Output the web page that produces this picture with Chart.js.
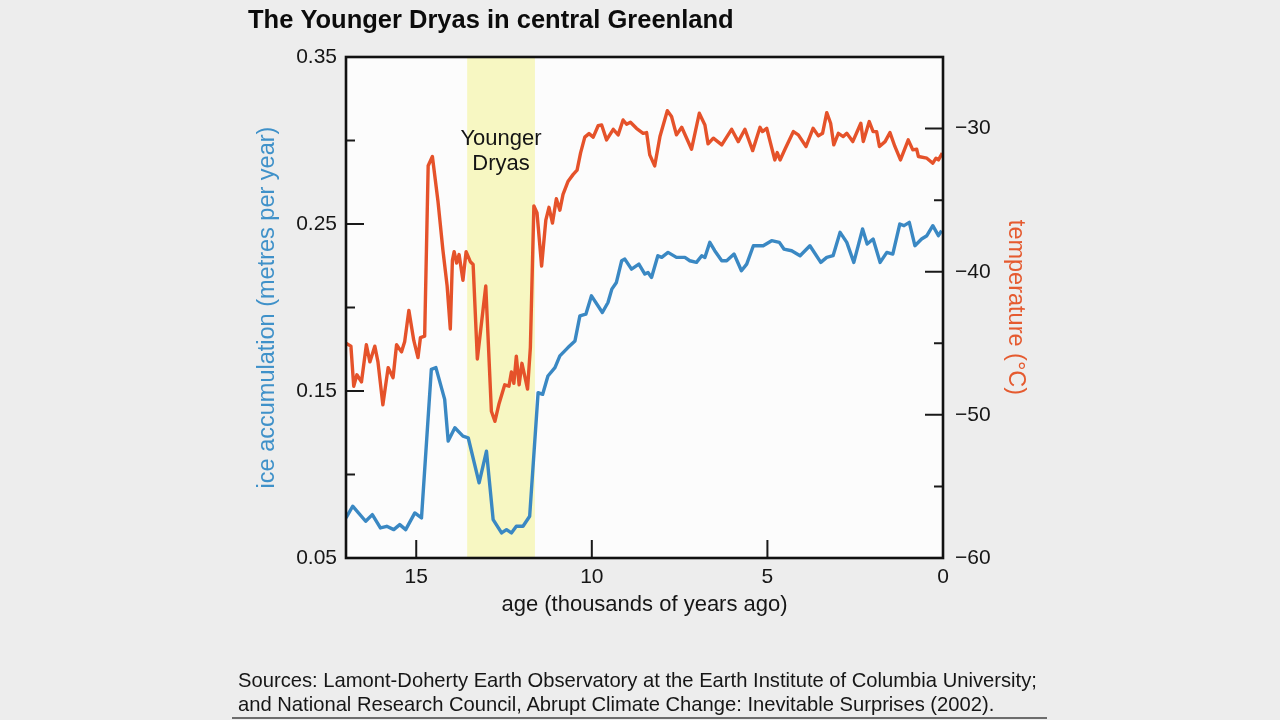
<!DOCTYPE html>
<html>
<head>
<meta charset="utf-8">
<script src="https://cdn.jsdelivr.net/npm/chart.js@4.4.1/dist/chart.umd.min.js"></script>
<style>
  html, body { margin: 0; padding: 0; background: #ededed; }
  #wrap { position: relative; width: 1280px; height: 720px; overflow: hidden; }
  #chart { position: absolute; left: 0; top: 0; }
  #source { position: absolute; left: 238px; top: 669px; font-family: 'Liberation Sans', Arial, sans-serif;
            font-size: 20.2px; line-height: 23.7px; color: #161616; white-space: nowrap; }
  #rule { position: absolute; left: 232px; top: 717px; width: 815px; height: 2px; background: #6d6d6d; }
</style>
</head>
<body>
<div id="wrap">
  <canvas id="chart" width="1280" height="720"></canvas>
  <div id="source">Sources: Lamont-Doherty Earth Observatory at the Earth Institute of Columbia University;<br>and National Research Council, Abrupt Climate Change: Inevitable Surprises (2002).</div>
  <div id="rule"></div>
</div>
<script>
// ---------- data ----------
const titleText = 'The Younger Dryas in central Greenland';
const accumTitle = 'ice accumulation (metres per year)';
const tempTitle = 'temperature (°C)';
const ageTitle = 'age (thousands of years ago)';
const bandLabel = ['Younger', 'Dryas'];
const youngerDryas = [13.55, 11.62];   // ages (thousands of years ago)

const ageTicks = [0, 5, 10, 15];
const accumTicks = [0.05, 0.10, 0.15, 0.20, 0.25, 0.30, 0.35];
const accumLabelled = [0.05, 0.15, 0.25, 0.35];
const tempTicks = [-60, -55, -50, -45, -40, -35, -30, -25];
const tempLabelled = [-60, -50, -40, -30];

const ageTemp = [17.0, 16.86, 16.78, 16.69, 16.56, 16.42, 16.32, 16.18, 16.09, 15.95, 15.80, 15.66, 15.56, 15.42, 15.33,
  15.21, 15.07, 14.95, 14.88, 14.76, 14.66, 14.54, 14.38, 14.24, 14.12, 14.03, 13.97, 13.92, 13.85, 13.78, 13.67, 13.58,
  13.46, 13.38, 13.26, 13.02, 12.86, 12.76, 12.64, 12.48, 12.36, 12.29, 12.22, 12.15, 12.07, 11.99, 11.91, 11.83, 11.75,
  11.65, 11.56, 11.43, 11.31, 11.22, 11.12, 11.01, 10.91, 10.82, 10.68, 10.53, 10.42, 10.32, 10.20, 10.08, 9.96, 9.82,
  9.72, 9.58, 9.39, 9.25, 9.11, 9.01, 8.90, 8.73, 8.54, 8.44, 8.35, 8.21, 8.06, 7.85, 7.73, 7.59, 7.44, 7.16, 6.94, 6.78,
  6.69, 6.54, 6.30, 6.02, 5.83, 5.64, 5.42, 5.21, 5.14, 5.02, 4.79, 4.72, 4.64, 4.50, 4.26, 4.12, 3.90, 3.70, 3.55, 3.43,
  3.31, 3.20, 3.11, 2.98, 2.84, 2.74, 2.57, 2.34, 2.27, 2.10, 1.99, 1.89, 1.81, 1.65, 1.51, 1.37, 1.21, 0.99, 0.86, 0.75,
  0.70, 0.46, 0.29, 0.20, 0.13, 0.02];
const tempC = [-45.0, -45.2, -48.0, -47.2, -47.7, -45.1, -46.3, -45.2, -46.3, -49.3, -46.7, -47.4, -45.1, -45.6, -44.9,
  -42.7, -44.8, -46.0, -44.6, -44.5, -32.6, -31.95, -35.1, -38.5, -41.0, -44.0, -39.2, -38.6, -39.4, -38.8, -40.6, -38.6,
  -39.3, -39.5, -46.1, -41.0, -49.75, -50.45, -49.2, -47.9, -48.0, -47.0, -47.8, -45.9, -47.9, -46.4, -47.3, -48.2, -45.3,
  -35.4, -35.9, -39.6, -36.4, -35.5, -36.6, -34.9, -35.7, -34.6, -33.7, -33.2, -32.9, -31.7, -30.6, -30.35, -30.6, -29.8,
  -29.75, -30.79, -30.05, -30.44, -29.40, -29.70, -29.56, -29.98, -30.33, -30.28, -31.84, -32.61, -30.56, -28.75, -29.16, -30.44, -29.91, -31.44, -28.93, -29.75,
  -31.07, -30.67, -31.14, -30.05, -30.91, -30.05, -31.54, -29.91, -30.21, -29.98, -32.19, -31.68, -32.19, -31.44, -30.21, -30.44, -31.25, -29.98, -30.51, -30.33,
  -28.89, -29.63, -31.14, -30.33, -30.56, -30.33, -30.91, -29.63, -30.91, -29.51, -30.21, -30.21, -31.25, -30.91, -30.28, -31.25, -32.19, -30.79, -31.49, -31.44,
  -31.95, -32.07, -32.42, -32.07, -32.19, -31.72];

const ageAccum = [17.0, 16.81, 16.44, 16.25, 16.02, 15.84, 15.64, 15.47, 15.30, 15.04, 14.85, 14.57, 14.44, 14.19, 14.09,
  13.90, 13.67, 13.52, 13.21, 13.00, 12.81, 12.57, 12.43, 12.29, 12.15, 11.96, 11.77, 11.53, 11.40, 11.25, 11.05, 10.91,
  10.68, 10.48, 10.34, 10.17, 10.01, 9.70, 9.54, 9.43, 9.30, 9.15, 9.06, 8.87, 8.66, 8.49, 8.40, 8.30, 8.12, 8.01, 7.83,
  7.59, 7.35, 7.21, 7.02, 6.87, 6.78, 6.64, 6.50, 6.30, 6.16, 5.95, 5.74, 5.59, 5.40, 5.12, 4.88, 4.66, 4.53, 4.31, 4.07,
  3.79, 3.48, 3.31, 3.13, 2.93, 2.74, 2.54, 2.29, 2.16, 1.99, 1.79, 1.60, 1.43, 1.23, 1.11, 0.96, 0.80, 0.61, 0.46, 0.29,
  0.13, 0.04];
const accum = [0.074, 0.081, 0.072, 0.076, 0.068, 0.069, 0.067, 0.070, 0.067, 0.077, 0.074, 0.163, 0.164, 0.145, 0.120,
  0.128, 0.123, 0.122, 0.095, 0.114, 0.073, 0.065, 0.067, 0.065, 0.069, 0.069, 0.075, 0.149, 0.148, 0.159, 0.164, 0.171,
  0.176, 0.180, 0.195, 0.196, 0.207, 0.197, 0.203, 0.211, 0.215, 0.228, 0.229, 0.223, 0.226, 0.220, 0.221, 0.218, 0.231, 0.230, 0.233,
  0.230, 0.230, 0.228, 0.227, 0.231, 0.230, 0.239, 0.234, 0.228, 0.228, 0.232, 0.222, 0.226, 0.237, 0.237, 0.240, 0.239, 0.235, 0.234, 0.231,
  0.237, 0.227, 0.230, 0.231, 0.245, 0.239, 0.227, 0.247, 0.238, 0.241, 0.227, 0.233, 0.232, 0.250, 0.249, 0.251, 0.237, 0.241, 0.243, 0.249,
  0.243, 0.246];

// ---------- styling ----------
const FONT = "'Liberation Sans', Arial, Helvetica, sans-serif";
const BLUE = '#3a88c3';
const RED = '#e5522a';
const AXIS_BLUE = '#3f91c9';
const AXIS_RED = '#e55a2f';
Chart.defaults.font.family = FONT;
Chart.defaults.color = '#161616';

const near = (a, b) => Math.abs(a - b) < 1e-6;
const toPoints = (xs, ys) => xs.map((x, i) => ({ x: x, y: ys[i] }));

const framePlugin = {
  id: 'frame',
  beforeDatasetsDraw(chart) {
    const { ctx, chartArea: a, scales } = chart;
    ctx.save();
    ctx.fillStyle = '#fcfcfc';
    ctx.fillRect(a.left, a.top, a.right - a.left, a.bottom - a.top);
    // Younger Dryas band
    const x0 = scales.x.getPixelForValue(youngerDryas[0]);
    const x1 = scales.x.getPixelForValue(youngerDryas[1]);
    ctx.fillStyle = '#f7f7c2';
    ctx.fillRect(Math.min(x0, x1), a.top, Math.abs(x1 - x0), a.bottom - a.top);
    ctx.fillStyle = '#141414';
    ctx.font = '22px ' + FONT;
    ctx.textAlign = 'center';
    ctx.textBaseline = 'alphabetic';
    const cx = (x0 + x1) / 2;
    ctx.fillText(bandLabel[0], cx, a.top + 88);
    ctx.fillText(bandLabel[1], cx, a.top + 113);
    ctx.restore();
  },
  afterDraw(chart) {
    const { ctx, chartArea: a, scales } = chart;
    ctx.save();
    ctx.strokeStyle = '#1a1a1a';
    ctx.lineWidth = 2;
    ctx.beginPath();
    scales.y.ticks.forEach(t => {
      const y = scales.y.getPixelForValue(t.value);
      const len = accumLabelled.some(v => near(v, t.value)) ? 18 : 9;
      ctx.moveTo(a.left, y); ctx.lineTo(a.left + len, y);
    });
    scales.y1.ticks.forEach(t => {
      const y = scales.y1.getPixelForValue(t.value);
      const len = tempLabelled.some(v => near(v, t.value)) ? 18 : 9;
      ctx.moveTo(a.right, y); ctx.lineTo(a.right - len, y);
    });
    scales.x.ticks.forEach(t => {
      const x = scales.x.getPixelForValue(t.value);
      ctx.moveTo(x, a.bottom); ctx.lineTo(x, a.bottom - 18);
    });
    ctx.stroke();
    ctx.lineWidth = 2.6;
    ctx.strokeStyle = '#111';
    ctx.strokeRect(a.left, a.top, a.right - a.left, a.bottom - a.top);
    ctx.restore();
  }
};

new Chart(document.getElementById('chart'), {
  type: 'line',
  data: {
    datasets: [
      {
        label: 'temperature',
        data: toPoints(ageTemp, tempC),
        yAxisID: 'y1',
        borderColor: RED,
        borderWidth: 3.4,
        pointRadius: 0,
        tension: 0,
        borderJoinStyle: 'round'
      },
      {
        label: 'ice accumulation',
        data: toPoints(ageAccum, accum),
        yAxisID: 'y',
        borderColor: BLUE,
        borderWidth: 3.4,
        pointRadius: 0,
        tension: 0,
        borderJoinStyle: 'round'
      }
    ]
  },
  options: {
    responsive: false,
    animation: false,
    layout: { padding: { left: 248, right: 247, top: 0, bottom: 97 } },
    plugins: {
      legend: { display: false },
      tooltip: { enabled: false },
      title: {
        display: true,
        text: titleText,
        align: 'start',
        color: '#0c0c0c',
        font: { size: 25.5, weight: 'bold', family: FONT },
        padding: { top: 6, bottom: 20.4 }
      }
    },
    scales: {
      x: {
        type: 'linear',
        position: 'bottom',
        min: 0,
        max: 17,
        reverse: true,
        afterBuildTicks: s => { s.ticks = ageTicks.map(v => ({ value: v })); },
        afterFit: s => { s.height = 65; },
        ticks: { padding: 6.4, font: { size: 21 }, color: '#161616', callback: v => String(v) },
        grid: { display: false, drawTicks: false },
        border: { display: false },
        title: { display: true, text: ageTitle, font: { size: 22 }, color: '#161616', padding: { top: 0, bottom: 4.8 } }
      },
      y: {
        type: 'linear',
        position: 'left',
        min: 0.05,
        max: 0.35,
        afterBuildTicks: s => { s.ticks = accumTicks.map(v => ({ value: v })); },
        afterFit: s => { s.width = 98; },
        ticks: {
          padding: 9, font: { size: 21 }, color: '#161616',
          callback: v => accumLabelled.some(m => near(m, v)) ? v.toFixed(2) : ''
        },
        grid: { display: false, drawTicks: false },
        border: { display: false },
        title: { display: true, text: accumTitle, color: AXIS_BLUE, font: { size: 23.5 }, padding: { top: 5.9, bottom: 0 } }
      },
      y1: {
        type: 'linear',
        position: 'right',
        min: -60,
        max: -25,
        afterBuildTicks: s => { s.ticks = tempTicks.map(v => ({ value: v })); },
        afterFit: s => { s.width = 90; },
        ticks: {
          padding: 12, font: { size: 21 }, color: '#161616',
          callback: v => tempLabelled.includes(v) ? '\u2212' + Math.abs(v) : ''
        },
        grid: { display: false, drawTicks: false },
        border: { display: false },
        title: { display: true, text: tempTitle, color: AXIS_RED, font: { size: 23.5 }, padding: { top: 3.9, bottom: 0 } }
      }
    }
  },
  plugins: [framePlugin]
});
</script>
</body>
</html>
